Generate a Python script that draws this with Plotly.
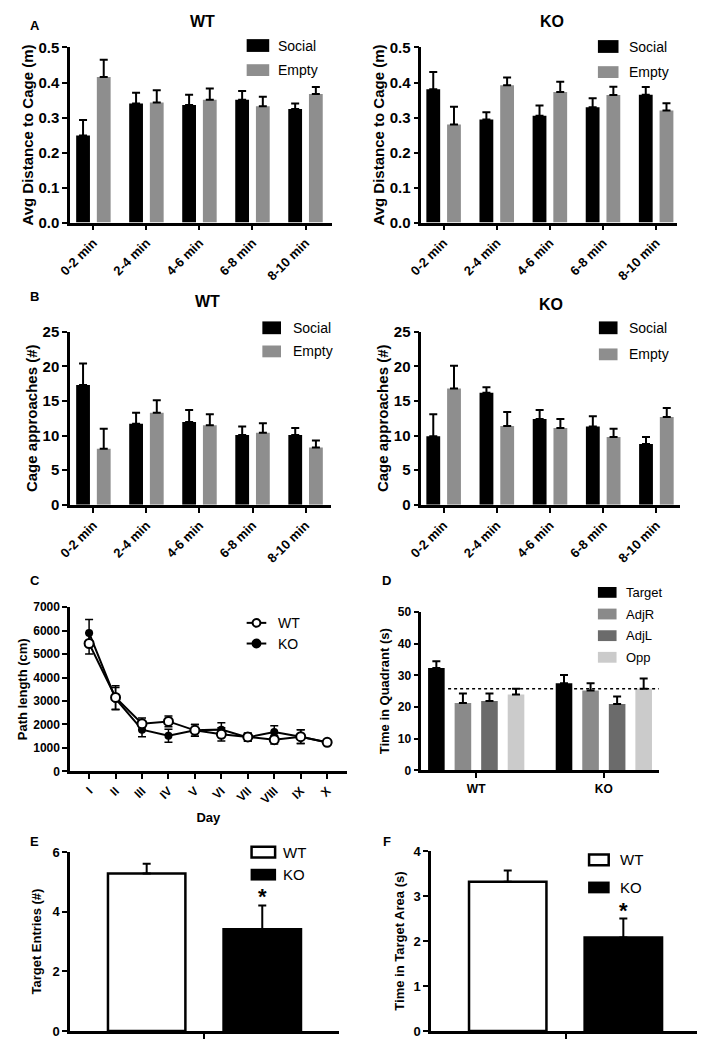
import plotly.graph_objects as go

# The page body adds an 8px margin; the figure is sized so the whole page is 705x1050
PAGE_W, PAGE_H = 705, 1050
OFF = 8
W, H = PAGE_W - 2 * OFF, PAGE_H - 2 * OFF

# ---------------- data ----------------
time_bins = ["0-2 min", "2-4 min", "4-6 min", "6-8 min", "8-10 min"]

dist_wt_social = [0.249, 0.340, 0.336, 0.351, 0.324]
dist_wt_social_sem = [0.044, 0.031, 0.029, 0.025, 0.016]
dist_wt_empty = [0.416, 0.343, 0.351, 0.332, 0.367]
dist_wt_empty_sem = [0.049, 0.035, 0.032, 0.027, 0.020]
dist_ko_social = [0.381, 0.294, 0.305, 0.329, 0.365]
dist_ko_social_sem = [0.049, 0.021, 0.029, 0.026, 0.022]
dist_ko_empty = [0.280, 0.392, 0.373, 0.364, 0.320]
dist_ko_empty_sem = [0.051, 0.022, 0.029, 0.024, 0.021]

appr_wt_social = [17.3, 11.7, 11.95, 10.1, 10.1]
appr_wt_social_sem = [3.1, 1.6, 1.75, 1.2, 1.0]
appr_wt_empty = [8.1, 13.3, 11.5, 10.4, 8.3]
appr_wt_empty_sem = [2.9, 1.8, 1.6, 1.4, 1.0]
appr_ko_social = [9.9, 16.2, 12.4, 11.3, 8.8]
appr_ko_social_sem = [3.2, 0.8, 1.3, 1.5, 1.0]
appr_ko_empty = [16.8, 11.4, 11.1, 9.8, 12.7]
appr_ko_empty_sem = [3.3, 2.0, 1.3, 1.2, 1.3]

days = ["I", "II", "III", "IV", "V", "VI", "VII", "VIII", "IX", "X"]
path_wt = [5450, 3150, 2030, 2130, 1750, 1580, 1470, 1350, 1480, 1240]
path_wt_sem = [450, 500, 250, 230, 250, 280, 170, 180, 290, 100]
path_ko = [5900, 3100, 1780, 1520, 1750, 1780, 1450, 1680, 1480, 1230]
path_ko_sem = [570, 470, 300, 280, 250, 290, 170, 270, 290, 100]

genotypes = ["WT", "KO"]
quadrants = ["Target", "AdjR", "AdjL", "Opp"]
quad_time = {"Target": [32.3, 27.5], "AdjR": [21.3, 25.2], "AdjL": [21.9, 21.0], "Opp": [24.0, 25.8]}
quad_sem = {"Target": [2.2, 2.6], "AdjR": [3.0, 2.3], "AdjL": [2.4, 2.3], "Opp": [1.8, 3.2]}
chance_level = 25.8

probe_group = ["Probe"]
entries = {"WT": 5.28, "KO": 3.41}
entries_sem = {"WT": 0.33, "KO": 0.80}
target_time = {"WT": 3.32, "KO": 2.08}
target_time_sem = {"WT": 0.25, "KO": 0.42}

# ---------------- styling ----------------
FONT = "Liberation Sans, Arial, sans-serif"
GRAY = "#8e8e8e"
QCOL = {"Target": "#000000", "AdjR": "#8a8a8a", "AdjL": "#6b6b6b", "Opp": "#cbcbcb"}


def px(x):
    return min(max((x - OFF) / W, 0), 1)


def py(y):
    return min(max(1 - (y - OFF) / H, 0), 1)


def xd(a, b):
    return [px(a), px(b)]


def yd(top, bottom):
    return [py(bottom), py(top)]


def err(sem):
    return dict(type="data", array=sem, arrayminus=[0] * len(sem), symmetric=False,
                color="black", thickness=2, width=4)


common_axis = dict(showline=True, linecolor="black", linewidth=2.5, ticks="outside",
                   ticklen=5, tickwidth=2, tickcolor="black", showgrid=False,
                   zeroline=False, fixedrange=True, color="black")

fig = go.Figure()
layout = {}


def sfx(i):
    return "" if i == 1 else str(i)


def add_xaxis(i, dom, rng, fontsize, **kw):
    d = dict(common_axis)
    d.update(domain=xd(*dom), range=rng, type="category", anchor="y" + sfx(i),
             tickfont=dict(family=FONT, size=fontsize, weight="bold", color="black"))
    d.update(kw)
    layout["xaxis" + sfx(i)] = d


def add_yaxis(i, dom, rng, dtick, fontsize, title, tsize, standoff, **kw):
    d = dict(common_axis)
    d.update(domain=yd(*dom), range=rng, dtick=dtick, anchor="x" + sfx(i),
             tickfont=dict(family=FONT, size=fontsize, weight="bold", color="black"),
             title=dict(text=title, font=dict(family=FONT, size=tsize, weight="bold", color="black"),
                        standoff=standoff))
    d.update(kw)
    layout["yaxis" + sfx(i)] = d


def ax(i):
    return "x" + sfx(i), "y" + sfx(i)


# ---------- Panels A & B ----------
pair_w = 0.26
panels_ab = [
    (1, dist_wt_social, dist_wt_social_sem, dist_wt_empty, dist_wt_empty_sem),
    (2, dist_ko_social, dist_ko_social_sem, dist_ko_empty, dist_ko_empty_sem),
    (3, appr_wt_social, appr_wt_social_sem, appr_wt_empty, appr_wt_empty_sem),
    (4, appr_ko_social, appr_ko_social_sem, appr_ko_empty, appr_ko_empty_sem),
]
for i, s, ss, e, es in panels_ab:
    xa, ya = ax(i)
    fig.add_trace(go.Bar(x=time_bins, y=s, error_y=err(ss), marker=dict(color="black", line=dict(width=0)),
                         width=pair_w, offset=-0.325, xaxis=xa, yaxis=ya, showlegend=False, name="Social"))
    fig.add_trace(go.Bar(x=time_bins, y=e, error_y=err(es), marker=dict(color=GRAY, line=dict(width=0)),
                         width=pair_w, offset=0.065, xaxis=xa, yaxis=ya, showlegend=False, name="Empty"))

add_xaxis(1, (58, 325), [-0.44, 4.5], 13, tickangle=-45)
add_yaxis(1, (39, 217), [0, 0.5], 0.1, 15, "Avg Distance to Cage (m)", 15, 2, tickformat=".1f")
add_xaxis(2, (416, 677), [-0.42, 4.4], 13, tickangle=-45)
add_yaxis(2, (39, 217), [0, 0.5], 0.1, 15, "Avg Distance to Cage (m)", 15, 2, tickformat=".1f")
add_xaxis(3, (58, 324), [-0.44, 4.48], 13, tickangle=-45)
add_yaxis(3, (328, 504), [0, 25], 5, 15, "Cage approaches (#)", 15, 2)
add_xaxis(4, (416, 680), [-0.42, 4.45], 13, tickangle=-45)
add_yaxis(4, (328, 504), [0, 25], 5, 15, "Cage approaches (#)", 15, 2)

# ---------- Panel C ----------
xa, ya = ax(5)
fig.add_trace(go.Scatter(x=days, y=path_ko, mode="lines+markers", name="KO",
                         line=dict(color="black", width=2),
                         marker=dict(symbol="circle", size=8, color="black"),
                         error_y=dict(type="data", array=path_ko_sem, color="black", thickness=1.5, width=4),
                         xaxis=xa, yaxis=ya, showlegend=False))
fig.add_trace(go.Scatter(x=days, y=path_wt, mode="lines+markers", name="WT",
                         line=dict(color="black", width=2),
                         marker=dict(symbol="circle", size=9, color="white", line=dict(color="black", width=2)),
                         error_y=dict(type="data", array=path_wt_sem, color="black", thickness=1.5, width=4),
                         xaxis=xa, yaxis=ya, showlegend=False))
add_xaxis(5, (58, 340), [-0.72, 9.74], 12, tickangle=-45,
          title=dict(text="Day", font=dict(family=FONT, size=13, weight="bold", color="black"), standoff=8))
add_yaxis(5, (608, 775), [0, 7000], 1000, 12, "Path length (cm)", 13, 3)

# ---------- Panel D ----------
xa, ya = ax(6)
d_offsets = {"Target": -0.377, "AdjR": -0.169, "AdjL": 0.039, "Opp": 0.247}
for q in quadrants:
    fig.add_trace(go.Bar(x=genotypes, y=quad_time[q], error_y=err(quad_sem[q]),
                         marker=dict(color=QCOL[q], line=dict(width=0)), width=0.13, offset=d_offsets[q],
                         xaxis=xa, yaxis=ya, showlegend=False, name=q))
add_xaxis(6, (416, 658), [-0.43, 1.43], 12)
add_yaxis(6, (613, 774), [0, 50], 10, 12, "Time in Quadrant (s)", 13, 6)

# ---------- Panels E & F ----------
for i, vals, sems in [(7, entries, entries_sem), (8, target_time, target_time_sem)]:
    xa, ya = ax(i)
    fig.add_trace(go.Bar(x=probe_group, y=[vals["WT"]], error_y=err([sems["WT"]]),
                         marker=dict(color="white", line=dict(color="black", width=2.5)),
                         width=0.288, offset=-0.359, xaxis=xa, yaxis=ya, showlegend=False, name="WT"))
    fig.add_trace(go.Bar(x=probe_group, y=[vals["KO"]], error_y=err([sems["KO"]]),
                         marker=dict(color="black", line=dict(color="black", width=2.5)),
                         width=0.288, offset=0.071, xaxis=xa, yaxis=ya, showlegend=False, name="KO"))
add_xaxis(7, (58, 332), [-0.5, 0.5], 12, showticklabels=False)
add_yaxis(7, (857, 1039), [0, 6], 2, 13, "Target Entries (#)", 13, 8)
add_xaxis(8, (426, 697), [-0.5, 0.489], 12, showticklabels=False)
add_yaxis(8, (856, 1039), [0, 4], 1, 13, "Time in Target Area (s)", 13, 6)

# ---------- annotations / custom legends ----------
ann = []
shapes = []


def text(x, y, t, size, bold=True, anchor="center"):
    ann.append(dict(xref="paper", yref="paper", x=px(x), y=py(y), text=t, showarrow=False,
                    xanchor=anchor, yanchor="middle",
                    font=dict(family=FONT, size=size, color="black", weight="bold" if bold else "normal")))


def box(x0, x1, yc, h, fill, outline=None):
    shapes.append(dict(type="rect", xref="paper", yref="paper", x0=px(x0), x1=px(x1),
                       y0=py(yc + h / 2), y1=py(yc - h / 2), fillcolor=fill,
                       line=dict(color=outline or fill, width=2.5 if outline else 0)))


text(193, 13, "WT", 16)
text(549, 13, "KO", 16)
text(198, 297, "WT", 16)
text(548, 300, "KO", 16)
for letter, x, y in [("A", 22, 17), ("B", 22, 292), ("C", 22, 581), ("D", 381, 581), ("E", 22, 846), ("F", 381, 846)]:
    text(x, y, letter, 13)

for (bx0, bx1, tx, ys, ye) in [(238, 261, 268, 37, 62), (596, 617, 626, 38, 64),
                               (254, 273, 283, 324, 348), (597, 616, 626, 324, 351)]:
    box(bx0, bx1, ys, 13, "black")
    text(tx, ys, "Social", 14, bold=False, anchor="left")
    box(bx0, bx1, ye, 12, GRAY)
    text(tx, ye, "Empty", 14, bold=False, anchor="left")

for name, yc, fill in [("WT", 624, "white"), ("KO", 645, "black")]:
    shapes.append(dict(type="line", xref="paper", yref="paper", x0=px(238), x1=px(258),
                       y0=py(yc), y1=py(yc), line=dict(color="black", width=2)))
    shapes.append(dict(type="circle", xref="paper", yref="paper", x0=px(244), x1=px(252),
                       y0=py(yc + 4), y1=py(yc - 4), fillcolor=fill, line=dict(color="black", width=2)))
    text(268, yc, name, 14, bold=False, anchor="left")

for q, yc in zip(quadrants, [593, 615, 637, 659]):
    box(596, 615, yc, 11, QCOL[q])
    text(623, yc, q, 13, bold=False, anchor="left")

shapes.append(dict(type="line", xref="x6", yref="y6", x0=-0.22, x1=1.45, y0=chance_level, y1=chance_level,
                   line=dict(color="black", width=1.5, dash="dot"), layer="above"))

for (bx0, bx1, tx, yw, yk) in [(243, 267, 273, 857, 880), (587, 607, 616, 865, 893)]:
    box(bx0, bx1, yw, 11, "white", outline="black")
    text(tx, yw, "WT", 15, bold=False, anchor="left")
    box(bx0 - 1, bx1 + 1, yk, 12, "black")
    text(tx, yk, "KO", 15, bold=False, anchor="left")

for i, vals, sems in [(7, entries, entries_sem), (8, target_time, target_time_sem)]:
    xa, ya = ax(i)
    ann.append(dict(xref=xa, yref=ya, x=0.215, y=vals["KO"] + sems["KO"], text="*", showarrow=False,
                    yanchor="bottom", yshift=-6,
                    font=dict(family=FONT, size=22, color="black", weight="bold")))

fig.update_layout(**layout)
fig.update_layout(
    width=W, height=H, margin=dict(l=0, r=0, t=0, b=0),
    paper_bgcolor="white", plot_bgcolor="white",
    barmode="group", showlegend=False,
    annotations=ann, shapes=shapes,
    font=dict(family=FONT, color="black"),
)

fig.write_html("out.html")
